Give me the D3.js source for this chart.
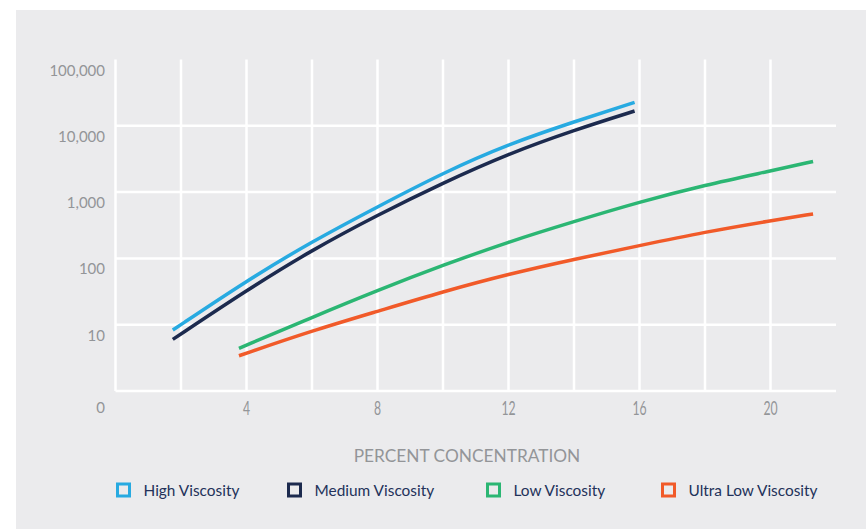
<!DOCTYPE html>
<html><head><meta charset="utf-8">
<script src="https://cdn.jsdelivr.net/npm/d3@7"></script>
<style>html,body{margin:0;padding:0;background:#fff;}svg{display:block;}</style>
</head><body>
<svg id="chart" width="866" height="529"></svg>
<script>
// ---- data ----
const seriesNames = ["High Viscosity", "Medium Viscosity", "Low Viscosity", "Ultra Low Viscosity"];
const seriesColors = ["#27aae1", "#1c2a4e", "#2bb673", "#f15a29"];
const highX = [1.75, 4, 6, 8, 10, 12, 14, 15.85];
const highY = [8.3, 46, 180, 600, 1950, 5300, 11500, 22600];
const mediumX = [1.75, 4, 6, 8, 10, 12, 14, 15.85];
const mediumY = [6.0, 33, 134, 451, 1380, 3800, 8600, 16700];
const lowX = [3.77, 6, 8, 10, 12, 14, 16, 18, 20, 21.3];
const lowY = [4.4, 12.9, 33, 79, 178, 360, 710, 1280, 2080, 2900];
const ultraX = [3.77, 6, 8, 10, 12, 14, 16, 18, 20, 21.3];
const ultraY = [3.4, 8.1, 15.9, 31.5, 58, 97, 156, 250, 370, 468];
const xTicks = [4, 8, 12, 16, 20];
const xGrid = [2, 4, 6, 8, 10, 12, 14, 16, 18, 20];
const yTicks = [10, 100, 1000, 10000, 100000];
const yTickLabels = ["10", "100", "1,000", "10,000", "100,000"];
const xTitle = "PERCENT CONCENTRATION";

const seriesX = [highX, mediumX, lowX, ultraX];
const seriesY = [highY, mediumY, lowY, ultraY];

// ---- drawing ----
const svg = d3.select("#chart");
svg.append("rect").attr("x", 16).attr("y", 10).attr("width", 850).attr("height", 519).attr("fill", "#ebebed");

const x = d3.scaleLinear().domain([0, 22]).range([115.5, 836]);
const y = d3.scaleLog().domain([1, 100000]).range([391, 59.5]);

const grid = svg.append("g").attr("stroke", "#ffffff").attr("stroke-width", 2.5);
grid.selectAll("line.v").data(xGrid).join("line")
  .attr("x1", d => x(d)).attr("x2", d => x(d)).attr("y1", y(100000)).attr("y2", y(1));
grid.selectAll("line.h").data(yTicks.slice(0, 4)).join("line")
  .attr("x1", x(0)).attr("x2", x(22)).attr("y1", d => y(d)).attr("y2", d => y(d));
grid.append("line").attr("x1", x(0)).attr("x2", x(0)).attr("y1", y(100000)).attr("y2", y(1));
grid.append("line").attr("x1", x(0)).attr("x2", x(22)).attr("y1", y(1)).attr("y2", y(1));

const labelColor = "#939598";
const yl = svg.append("g").attr("font-family", "Lato, sans-serif").attr("font-size", 15).attr("fill", labelColor).attr("text-anchor", "end");
yl.selectAll("text").data(yTicks).join("text")
  .attr("x", 105).attr("y", d => y(d) + 16).text((d, i) => yTickLabels[i]);
yl.append("text").attr("x", 105).attr("y", 413).text("0");

const xl = svg.append("g").attr("font-family", "Lato, sans-serif").attr("font-size", 18.5).attr("fill", labelColor).attr("text-anchor", "middle");
xl.selectAll("text").data(xTicks).join("text")
  .attr("transform", d => `translate(${x(d)},414.5) scale(0.66,1)`).text(d => d);

svg.append("text").attr("x", 467).attr("y", 462).attr("text-anchor", "middle")
  .attr("font-family", "Lato, sans-serif").attr("font-size", 17.3).attr("fill", labelColor).text(xTitle);

const line = d3.line().x(d => x(d[0])).y(d => y(d[1])).curve(d3.curveBasis);
seriesNames.forEach((name, i) => {
  const pts = seriesX[i].map((v, j) => [v, seriesY[i][j]]);
  svg.append("path").datum(pts).attr("d", line).attr("fill", "none")
    .attr("stroke", seriesColors[i]).attr("stroke-width", 3.5);
});

// legend
const legendX = [117.5, 288.5, 487.5, 662.5];
const lg = svg.append("g");
seriesNames.forEach((name, i) => {
  lg.append("rect").attr("x", legendX[i]).attr("y", 484).attr("width", 12).attr("height", 12)
    .attr("fill", "none").attr("stroke", seriesColors[i]).attr("stroke-width", 3);
  lg.append("text").attr("x", legendX[i] + 26).attr("y", 496)
    .attr("font-family", "Lato, sans-serif").attr("font-size", 15.4).attr("fill", "#23325a").text(name);
});
</script>
</body></html>
